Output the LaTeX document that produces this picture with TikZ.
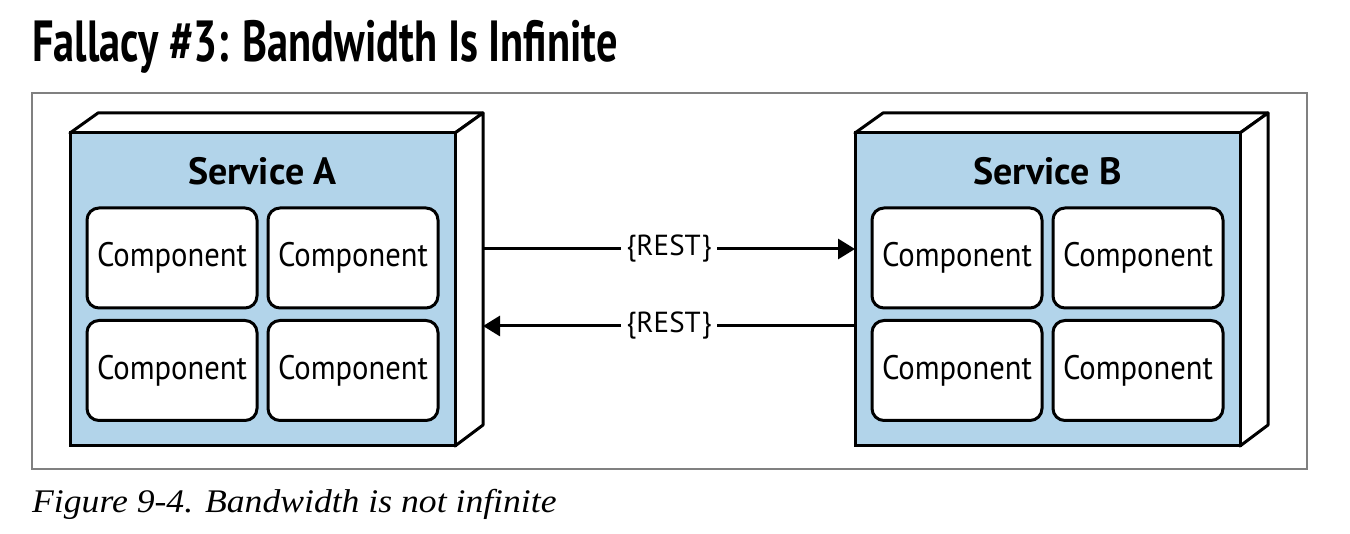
\documentclass[tikz,border=0pt]{standalone}
\usepackage{fontspec}
\setsansfont{PT Sans}
\renewcommand{\familydefault}{\sfdefault}
\newfontfamily\headfont[FakeStretch=0.73]{PT Sans}
\newfontfamily\compfont[FakeStretch=0.9]{PT Sans}
\newfontfamily\capfont[FakeStretch=1.08]{Liberation Serif}
\usepackage{tikz}
\usepackage{xcolor}
\usetikzlibrary{arrows.meta, positioning, backgrounds}
\definecolor{svc}{HTML}{B2D4EA}
\definecolor{frame1}{HTML}{808080}
\definecolor{dark}{HTML}{000000}

\begin{document}
\begin{tikzpicture}[x=1pt, y=-1pt,
    >={Triangle[length=17pt, width=20pt]},
    F/.style={rectangle, draw=dark, fill=svc, line width=3pt, outer sep=0pt, inner sep=0pt,
              minimum width=385pt, minimum height=313pt},
    C/.style={rectangle, rounded corners=12pt, draw=dark, fill=white, line width=3pt, inner sep=0pt,
              minimum width=170pt, minimum height=100pt, text=dark, font=\compfont\fontsize{34}{34}\selectfont},
    D/.style={draw=dark, fill=white, line width=3pt, line join=round},
    T/.style={anchor=base, inner sep=0pt, font=\fontsize{38}{38}\selectfont\bfseries},
    A/.style={->, line width=3pt, color=dark},
    L/.style={fill=white, inner sep=5pt, font=\fontsize{29}{29}\selectfont, midway}
]
\useasboundingbox (0,0) rectangle (1350,534);

% === HEADING ===
\node[anchor=base west, inner sep=0pt, font=\headfont\fontsize{58}{58}\selectfont\bfseries] (ttl) at (32,62)
    {Fallacy \#3: Bandwidth Is Infinite};

\node[draw=frame1, line width=1.5pt, inner sep=0pt, minimum width=1275pt, minimum height=376pt] (frm) at (669.5,281) {};

% === SERVICE A ===
\node[F] (fa) at (262.5,289.5) {};
\node[T] (ta) at (262.5,185) {Service A};
\node[C] (a1) at (172,258) {Component};
\node[C] (a2) at (353,258) {Component};
\node[C] (a3) at (172,370.5) {Component};
\node[C] (a4) at (353,370.5) {Component};

\begin{scope}[on background layer]
\draw[D] (fa.north west) -- ++(28,-20) -- ([xshift=28pt, yshift=20pt]fa.north east) -- (fa.north east) -- cycle;
\draw[D] (fa.north east) -- ++(28,-20) -- ([xshift=28pt, yshift=21pt]fa.south east) -- (fa.south east) -- cycle;
\end{scope}

% === SERVICE B ===
\node[F] (fb) at (1047.5,289.5) {};
\node[T] (tb) at (1047.5,185) {Service B};
\node[C] (b1) at (957,258) {Component};
\node[C] (b2) at (1138,258) {Component};
\node[C] (b3) at (957,370.5) {Component};
\node[C] (b4) at (1138,370.5) {Component};

\begin{scope}[on background layer]
\draw[D] (fb.north west) -- ++(28,-20) -- ([xshift=28pt, yshift=20pt]fb.north east) -- (fb.north east) -- cycle;
\draw[D] (fb.north east) -- ++(28,-20) -- ([xshift=28pt, yshift=21pt]fb.south east) -- (fb.south east) -- cycle;
\end{scope}

% === CALLS ===
\draw[A] ([xshift=28pt, yshift=40.5pt]fa.east) -- ([yshift=40.5pt]fb.west) node[L] {\{REST\}};
\draw[A] ([yshift=-36.5pt]fb.west) -- ([xshift=28pt, yshift=-36.5pt]fa.east) node[L] {\{REST\}};

% === CAPTION ===
\node[anchor=base west, inner sep=0pt, font=\capfont\itshape\fontsize{33}{33}\selectfont] (cap) at (32,512)
    {Figure 9-4. Bandwidth is not infinite};

\end{tikzpicture}
\end{document}
